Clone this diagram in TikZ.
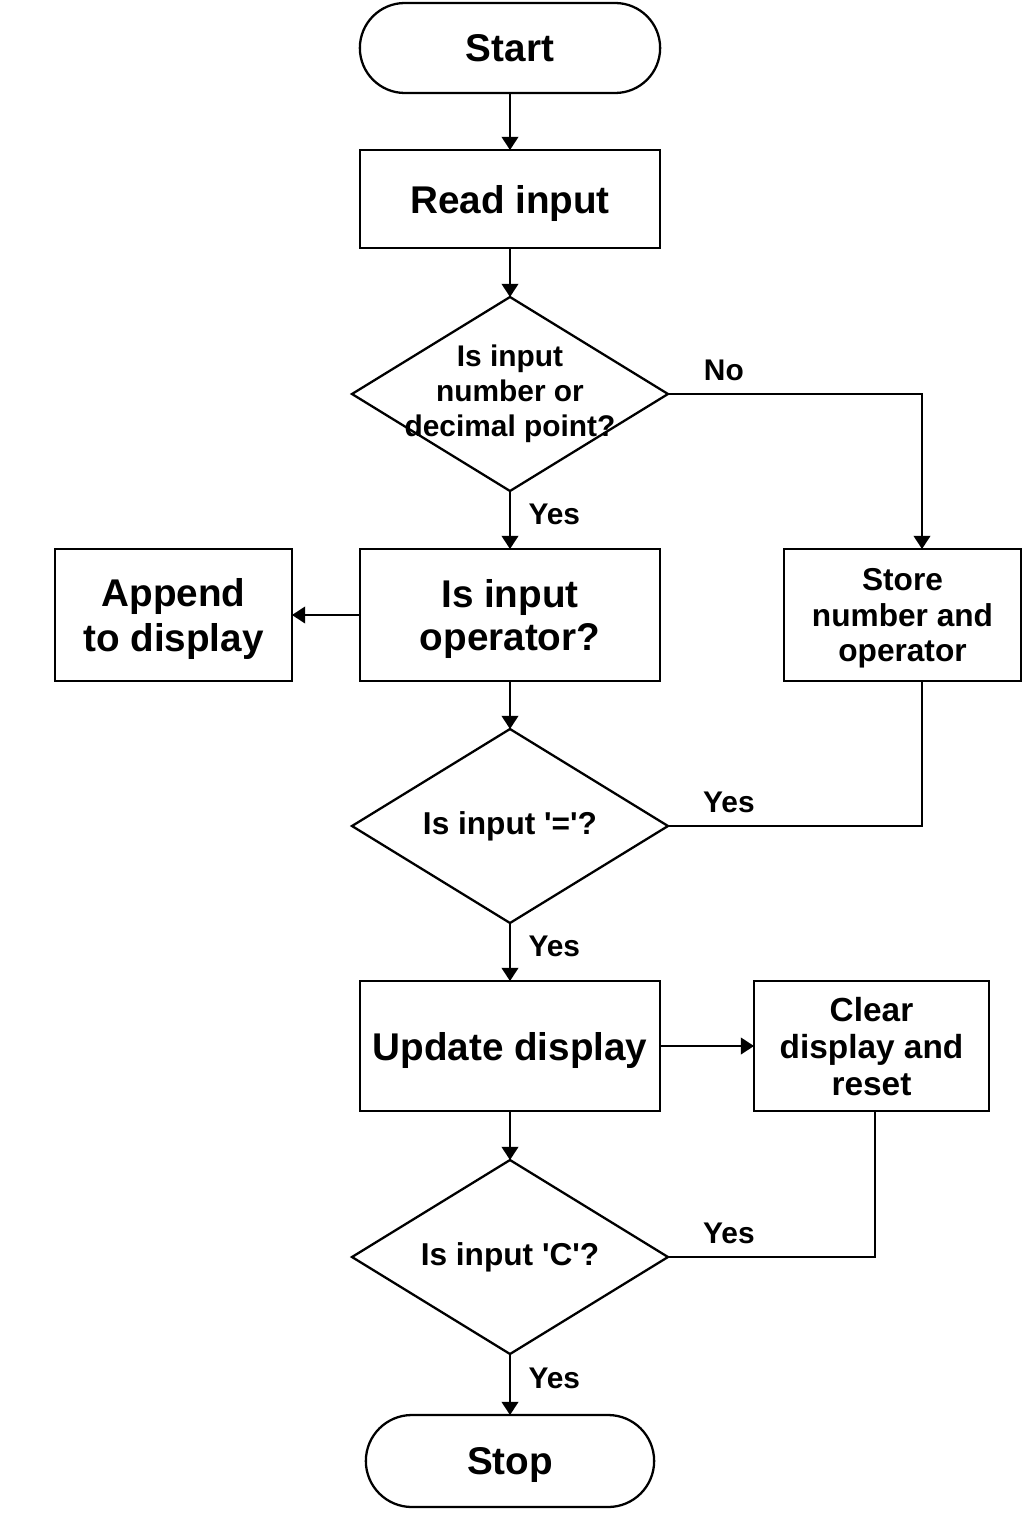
\documentclass[tikz,border=0pt]{standalone}
\usepackage{fontspec}
\setmainfont{Liberation Sans}
\usetikzlibrary{arrows.meta, positioning}
\usetikzlibrary{shapes.geometric,shapes.misc}
\tikzset{
  start_end/.style={
      rounded rectangle, draw,
      line width=1.3pt,
      outer sep=0pt,
      text depth=0pt,
      minimum width=6.24cm,
      minimum height=1.8cm,
      font=\fontsize{22}{24.5}\selectfont\bfseries,
    },
  process/.style={
      rectangle, draw,
      line width=1.3pt,
      outer sep=0pt,
      text depth=0pt,
      align=center,
      minimum width=6cm,
      minimum height=2.64cm,
      font=\fontsize{22}{24.5}\selectfont\bfseries,
    },
  sidebox/.style={
      process,
      minimum width=4.74cm,
      font=\fontsize{18}{20.4}\selectfont\bfseries,
    },
  decision/.style={
      diamond, draw,
      line width=1.3pt,
      outer sep=0pt,
      inner sep=0pt,
      minimum width=6.32cm,
      minimum height=3.88cm,
    },
  dtext/.style={
      align=center,
      inner sep=0pt,
      font=\fontsize{18}{20}\selectfont\bfseries,
    },
  description/.style={
      inner sep=0pt,
      font=\fontsize{17}{19}\selectfont\bfseries,
    },
  myarrow/.style={
      line width=1.1pt,
      -{Triangle[length=7.5pt,width=9.5pt]},
    },
  myline/.style={
      line width=1.1pt,
    },
}

\begin{document}
\begin{tikzpicture}
      \useasboundingbox (-10.2,0.96) rectangle (10.28,-29.76);
      \node[start_end] (start) {Start};
      \node[process, minimum height=1.96cm, below=1.14cm of start] (read_in) {Read input};
      \node[decision, below=0.98cm of read_in,
        label={[dtext, font=\fontsize{17}{19.8}\selectfont\bfseries]center:{Is input\\number or\\decimal point?}}] (is_num) {};
      \node[process, below=1.16cm of is_num] (is_op) {Is input\\operator?};
      \node[sidebox, font=\fontsize{22}{25.5}\selectfont\bfseries, left=1.36cm of is_op] (append) {Append\\to display};
      \node[sidebox, right=2.48cm of is_op] (store) {Store\\number and\\operator};
      \node[decision, below=0.96cm of is_op,
        label={[dtext]center:{Is input \textquotesingle=\textquotesingle?}}] (is_eq) {};
      \node[process, minimum height=2.6cm, below=1.16cm of is_eq] (update) {Update display};
      \node[sidebox, minimum width=4.7cm, minimum height=2.6cm,
        font=\fontsize{19}{21}\selectfont\bfseries, right=1.88cm of update] (clear) {Clear\\display and\\reset};
      \node[decision, below=0.98cm of update,
        label={[dtext]center:{Is input \textquotesingle C\textquotesingle?}}] (is_clr) {};
      \node[start_end, minimum width=6cm, minimum height=1.84cm, below=1.22cm of is_clr] (stop) {Stop};
      \coordinate (store_in) at ([xshift=0.39cm]store.north);
      \coordinate (store_out) at ([xshift=0.39cm]store.south);
      \coordinate (clear_out) at ([xshift=0.07cm]clear.south);
      \draw[myarrow] (start) -- (read_in);
      \draw[myarrow] (read_in) -- (is_num);
      \draw[myarrow] (is_num.east) -| node[description, pos=0.11, above=7pt] {No} (store_in);
      \draw[myarrow] (is_num) -- node[description, pos=0.4, right=10pt] {Yes} (is_op);
      \draw[myarrow] (is_op) -- (append);
      \draw[myarrow] (is_op) -- (is_eq);
      \draw[myline] (is_eq.east) -| node[description, pos=0.12, above=7pt] {Yes} (store_out);
      \draw[myarrow] (is_eq) -- node[description, pos=0.4, right=10pt] {Yes} (update);
      \draw[myarrow] (update) -- (clear);
      \draw[myarrow] (update) -- (is_clr);
      \draw[myline] (is_clr.east) -| node[description, pos=0.147, above=7pt] {Yes} (clear_out);
      \draw[myarrow] (is_clr) -- node[description, pos=0.4, right=10pt] {Yes} (stop);
    \end{tikzpicture}
\end{document}
